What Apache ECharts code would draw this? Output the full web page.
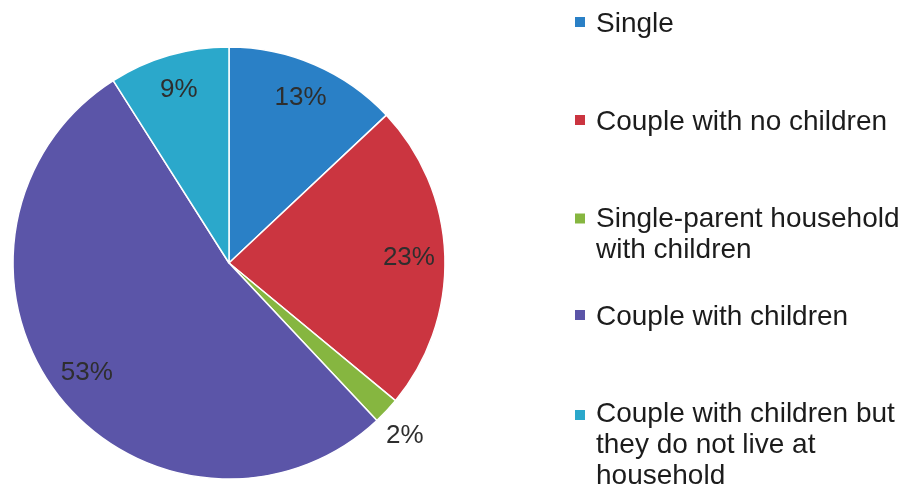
<!DOCTYPE html>
<html>
<head>
<meta charset="utf-8">
<script src="https://cdn.jsdelivr.net/npm/echarts@6/dist/echarts.min.js"></script>
<style>
html,body{margin:0;padding:0;background:#fff;}
#c{width:905px;height:491px;}
</style>
</head>
<body>
<div id="c"></div>
<script>
const categories = ['Single', 'Couple with no children', 'Single-parent household\nwith children', 'Couple with children', 'Couple with children but\nthey do not live at\nhousehold'];
const values = [13, 23, 2, 53, 9];
const palette = ['#2a80c6', '#cb3540', '#86b640', '#5b55a8', '#2ba8cb'];

const FONT = "'Liberation Sans', Arial, sans-serif";
const center = [229, 263];
const R = 216;

const data = categories.map((n, i) => ({ name: n, value: values[i], itemStyle: { color: palette[i] } }));

// legend layout: [top, height, icon centre offset]
const legendLayout = [[8.5, 31, 13.5], [106.5, 31, 13.5], [204, 62, 14.5], [301.5, 31, 13.5], [399, 93, 16]];
const legends = categories.map((n, i) => {
  const [top, H, cy] = legendLayout[i];
  return {
    left: 575, top: top, orient: 'vertical', padding: 0,
    selectedMode: false,
    itemWidth: 16, itemHeight: H,
    itemStyle: { borderWidth: 0 },
    data: [{ name: n, icon: `path://M0 0 M0 ${cy - 5} h10 v10 h-10 Z M16 ${H}` }],
    textStyle: { fontFamily: FONT, fontSize: 28, lineHeight: 31, color: '#1c1c1c' }
  };
});

const chart = echarts.init(document.getElementById('c'), null, { renderer: 'canvas' });
chart.setOption({
  backgroundColor: '#ffffff',
  animation: false,
  legend: legends,
  series: [
    {
      type: 'pie', center: center, radius: [0, R], startAngle: 90, clockwise: true,
      data: data,
      label: { show: false }, labelLine: { show: false },
      itemStyle: { borderColor: '#ffffff', borderWidth: 1.5 },
      emphasis: { disabled: true }
    },
    {
      type: 'pie', center: center, radius: [138, R], startAngle: 90, clockwise: true,
      silent: true,
      data: data.map((d, i) => i === 2
        ? { name: d.name, value: d.value, label: { position: 'outside' } }
        : { name: d.name, value: d.value }),
      itemStyle: { color: 'rgba(0,0,0,0)', borderWidth: 0 },
      label: {
        show: true, position: 'inside', formatter: '{d}%',
        fontFamily: FONT, fontSize: 26, color: '#2e2e2e'
      },
      labelLine: { show: false, length: 20, length2: 0 },
      labelLayout: function (p) {
        if (p.dataIndex === 2) return { dx: -20, dy: 11 };
      },
      emphasis: { disabled: true },
      legendHoverLink: false
    }
  ]
});
</script>
</body>
</html>
